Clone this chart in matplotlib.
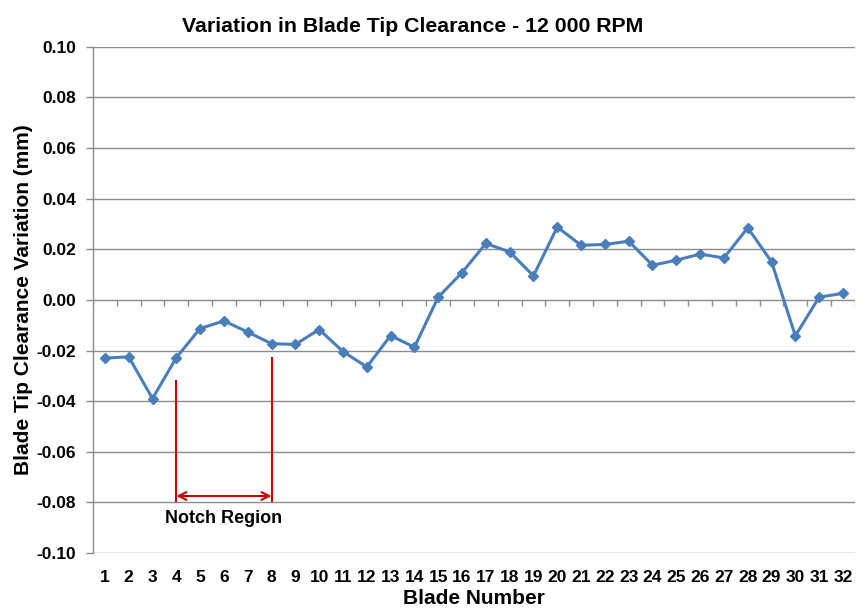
import matplotlib
matplotlib.use("Agg")
import matplotlib.pyplot as plt
import numpy as np

plt.rcParams['font.family'] = ['Liberation Sans', 'DejaVu Sans']

blades = list(range(1, 33))
variation = [-0.0230, -0.0225, -0.0390, -0.0228, -0.0113, -0.0083, -0.0127, -0.0173,
             -0.0176, -0.0117, -0.0204, -0.0265, -0.0141, -0.0187, 0.0011, 0.0108,
             0.0223, 0.0190, 0.0095, 0.0288, 0.0216, 0.0219, 0.0232, 0.0137,
             0.0157, 0.0181, 0.0166, 0.0285, 0.0151, -0.0142, 0.0011, 0.0026]
yticks = [-0.10, -0.08, -0.06, -0.04, -0.02, 0.00, 0.02, 0.04, 0.06, 0.08, 0.10]
notch_start, notch_end = 4, 8
notch_label = "Notch Region"

fig = plt.figure(figsize=(8.57, 6.13), dpi=100)
ax = fig.add_axes([0.1085, 0.098, 0.889, 0.8255])

grid_c = '#8c8c8c'
ax.set_xlim(0.5, 32.5)
ax.set_ylim(-0.10, 0.10)
ax.set_yticks(yticks)
ax.set_yticklabels([f"{v:.2f}" for v in yticks], fontsize=12.5, fontweight='bold')
ax.set_xticks(blades)
ax.set_xticklabels([str(b) for b in blades], fontsize=12.5, fontweight='bold')
ax.tick_params(axis='x', length=0, pad=12)
ax.tick_params(axis='y', length=5, color=grid_c, width=1, pad=7)
ax.yaxis.grid(True, color=grid_c, linewidth=1)
ax.set_axisbelow(True)
for s in ['top', 'right', 'bottom']:
    ax.spines[s].set_visible(False)
ax.spines['left'].set_color(grid_c)
ax.spines['left'].set_linewidth(1)

# category-axis tick marks at y=0 (between categories)
bounds = np.arange(0.5, 33.0, 1.0)
ax.vlines(bounds, -0.0025, 0, color=grid_c, linewidth=1, zorder=1)

ax.plot(blades, variation, color='#4A7EBB', linewidth=2.2, marker='D',
        markersize=5.5, markerfacecolor='#4A7EBB', markeredgecolor='#4A7EBB', zorder=3)

red = '#CC0000'
ax.vlines([notch_start], -0.080, -0.0316, color=red, linewidth=1.5, zorder=4)
ax.vlines([notch_end], -0.080, -0.0225, color=red, linewidth=1.5, zorder=4)
ax.annotate('', xy=(notch_start, -0.0775), xytext=(notch_end, -0.0775),
            arrowprops=dict(arrowstyle='<->', color=red, lw=1.5, mutation_scale=14,
                            shrinkA=0, shrinkB=0), zorder=4)
ax.text((notch_start + notch_end) / 2, -0.0865, notch_label, ha='center', va='center',
        fontsize=13, fontweight='bold')

fig.text(0.482, 1 - 32 / 613, "Variation in Blade Tip Clearance - 12 000 RPM",
         fontsize=15.3, fontweight='bold', ha='center', va='baseline')
ax.set_xlabel("Blade Number", fontsize=15, fontweight='bold', labelpad=3)
ax.set_ylabel("Blade Tip Clearance Variation (mm)", fontsize=15, fontweight='bold', labelpad=3)

fig.savefig("out.png", dpi=100)
